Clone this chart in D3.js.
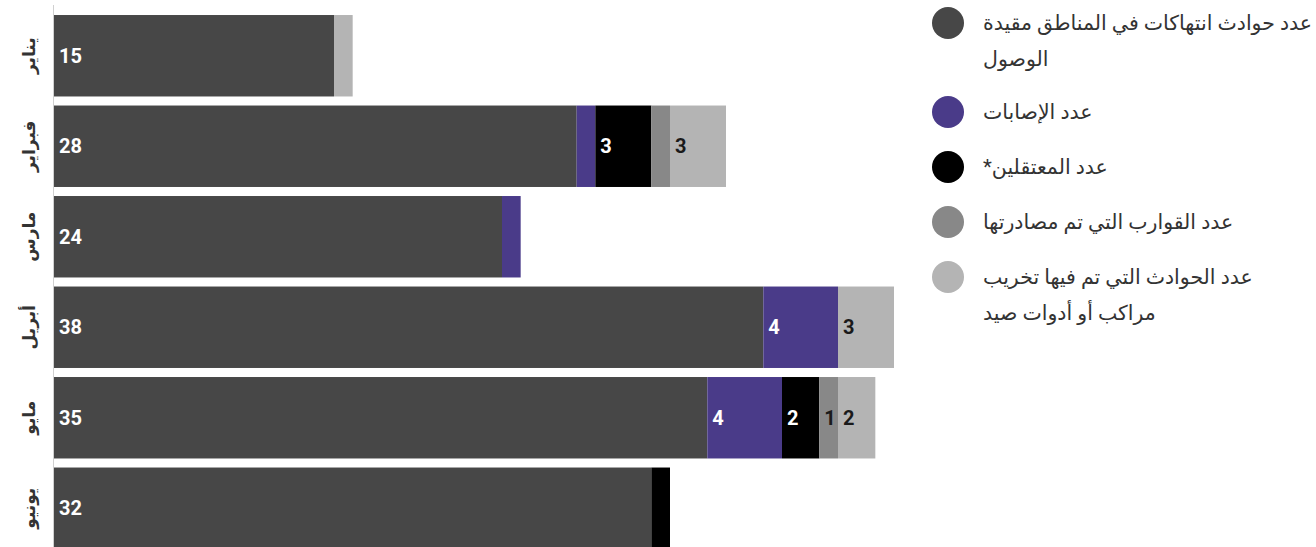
<!DOCTYPE html>
<html>
  <head>
    <meta charset="utf-8">
    <style type="text/css">
      body { margin: 0; background: #fff; }
      text { font-family: Roboto, "DejaVu Sans", sans-serif; }
    </style>
  </head>
  <body>
    <script src="https://cdnjs.cloudflare.com/ajax/libs/d3/7.8.5/d3.min.js"></script>
    <script type="text/javascript">
      const months = ["يناير", "فبراير", "مارس", "أبريل", "مايو", "يونيو"];
      const seriesNames = [
        ["عدد حوادث انتهاكات في المناطق مقيدة", "الوصول"],
        ["عدد الإصابات"],
        ["عدد المعتقلين*"],
        ["عدد القوارب التي تم مصادرتها"],
        ["عدد الحوادث التي تم فيها تخريب", "مراكب أو أدوات صيد"]
      ];
      const incidents = [15, 28, 24, 38, 35, 32];
      const injuries = [0, 1, 1, 4, 4, 0];
      const detained = [0, 3, 0, 0, 2, 1];
      const confiscated = [0, 1, 0, 0, 1, 0];
      const sabotage = [1, 3, 0, 3, 2, 0];
      // value labels that are printed (small segments mostly left blank)
      const shownOnes = [["مايو", 3]];

      const colors = ["#474747", "#4a3b89", "#000000", "#888888", "#b4b4b4"];
      const labelColors = ["#fff", "#fff", "#fff", "#1a1a1a", "#1a1a1a"];

      const W = 1316, H = 547;
      const svg = d3.select("body").append("svg").attr("width", W).attr("height", H);

      const allSeries = [incidents, injuries, detained, confiscated, sabotage];
      const rows = months.map((m, i) => {
        const r = { month: m };
        allSeries.forEach((s, k) => r["s" + k] = s[i]);
        return r;
      });
      const keys = allSeries.map((s, k) => "s" + k);
      const stacked = d3.stack().keys(keys)(rows);

      const x = d3.scaleLinear().domain([0, 45]).range([54, 894]);
      const y = d3.scaleBand().domain(months).range([10.5, 553.5])
        .paddingInner(0.1).paddingOuter(0.05);

      const layers = svg.append("g").selectAll("g")
        .data(stacked)
        .enter().append("g")
        .attr("fill", (d, k) => colors[k]);

      layers.selectAll("rect")
        .data(d => d)
        .enter().append("rect")
        .attr("x", d => x(d[0]))
        .attr("y", d => y(d.data.month))
        .attr("width", d => x(d[1]) - x(d[0]))
        .attr("height", y.bandwidth());

      layers.each(function(layer, k) {
        d3.select(this).selectAll("text")
          .data(layer.filter(d => {
            const v = d[1] - d[0];
            return v > 1 || (v === 1 && shownOnes.some(p => p[0] === d.data.month && p[1] === k));
          }))
          .enter().append("text")
          .attr("x", d => x(d[0]) + 5)
          .attr("y", d => y(d.data.month) + y.bandwidth() / 2)
          .attr("dy", "0.36em")
          .attr("fill", labelColors[k])
          .attr("font-size", 20)
          .attr("font-weight", "bold")
          .text(d => d[1] - d[0]);
      });

      const axis = svg.append("g")
        .attr("transform", "translate(53.5,0)")
        .call(d3.axisLeft(y).tickSize(0).tickSizeOuter(0).tickPadding(0));
      axis.select(".domain").attr("stroke", "#d0d0d0").attr("d", "M0,5V547");
      axis.selectAll(".tick text")
        .attr("transform", "translate(-24,0) rotate(-90)")
        .attr("text-anchor", "middle")
        .attr("x", 0).attr("dy", "0.35em")
        .attr("fill", "#333")
        .attr("font-size", 17)
        .attr("font-weight", "bold")
        .style("font-family", "'DejaVu Sans', sans-serif");

      const legendY = [23, 112, 167, 222, 277];
      const legend = svg.append("g").selectAll("g")
        .data(seriesNames)
        .enter().append("g")
        .attr("transform", (d, k) => `translate(0,${legendY[k]})`);
      legend.append("circle")
        .attr("cx", 948).attr("cy", 0).attr("r", 16)
        .attr("fill", (d, k) => colors[k]);
      legend.each(function(lines) {
        d3.select(this).selectAll("text")
          .data(lines)
          .enter().append("text")
          .attr("x", 983)
          .attr("y", (d, j) => j * 36)
          .attr("dy", "0.35em")
          .attr("direction", "rtl")
          .attr("text-anchor", "end")
          .attr("fill", "#333")
          .attr("font-size", 20.5)
          .text(d => d);
      });
    </script>
  </body>
</html>
